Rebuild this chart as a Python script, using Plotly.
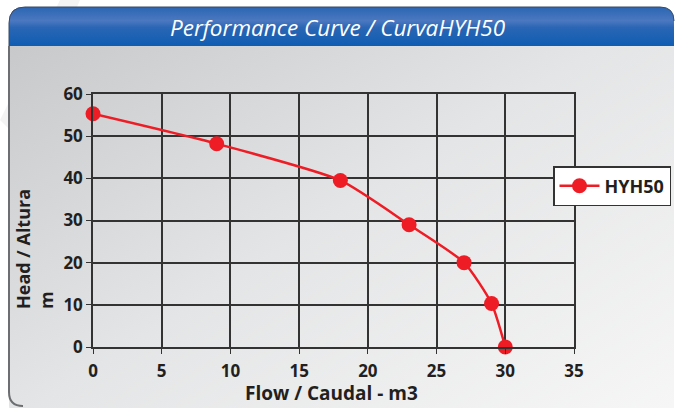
import base64
import plotly.graph_objects as go

flow = [0, 9, 18, 23, 27, 29, 30]
head = [55.3, 48.2, 39.5, 29, 20, 10.3, 0]
series_name = "HYH50"
title_text = "Performance Curve / CurvaHYH50"
x_title = "Flow / Caudal - m3"
y_title = "Head / Altura<br>m"
x_ticks = [0, 5, 10, 15, 20, 25, 30, 35]
y_ticks = [0, 10, 20, 30, 40, 50, 60]

W, H = 675, 408
L, R, T, B = 93, 101, 94, 61
pw, ph = W - L - R, H - T - B

svg = f"""<svg xmlns='http://www.w3.org/2000/svg' width='{W}' height='{H}' viewBox='0 0 {W} {H}'>
<defs>
<linearGradient id='hd' x1='0' y1='0' x2='0' y2='1'>
<stop offset='0' stop-color='#1a5cab'/><stop offset='0.45' stop-color='#4b78c0'/>
<stop offset='0.6' stop-color='#2a66b4'/><stop offset='1' stop-color='#0f5db3'/></linearGradient>
<linearGradient id='bd' x1='0' y1='0' x2='1' y2='1'>
<stop offset='0' stop-color='#c4c5c7'/><stop offset='0.5' stop-color='#e4e5e6'/><stop offset='1' stop-color='#f7f7f7'/></linearGradient>
<clipPath id='cp'><path d='M9,23 Q9,7 25,7 L660,7 Q674,7 674,21 L674,420 L25,420 Q9,420 9,404 Z'/></clipPath>
</defs>
<rect width='{W}' height='{H}' fill='#ffffff'/>
<path d='M0,120 L60,0 L80,0 L20,140 Z' fill='#f3f3f3'/>
<g clip-path='url(#cp)'>
<rect x='0' y='0' width='{W}' height='{H+20}' fill='url(#bd)'/>
<rect x='0' y='0' width='{W}' height='46' fill='url(#hd)'/>
</g>
<path d='M9,46 L9,23 Q9,7 25,7 L660,7 Q674,7 674,21' fill='none' stroke='#3a4a66' stroke-width='1'/>
<path d='M9,46 L9,392 Q9,406 23,406' fill='none' stroke='#6d6e71' stroke-width='2'/>
</svg>"""
src = "data:image/svg+xml;base64," + base64.b64encode(svg.encode()).decode()

red = "#ee1c25"
dark = "#231f20"
fig = go.Figure()
fig.add_trace(go.Scatter(
    x=flow, y=head, name=series_name, mode="lines+markers", cliponaxis=False,
    line=dict(color=red, width=2.5, shape="spline", smoothing=0.6),
    marker=dict(color=red, size=15),
))

fig.update_layout(
    width=W, height=H,
    margin=dict(l=L, r=R, t=T, b=B, autoexpand=False),
    paper_bgcolor="#ffffff", plot_bgcolor="rgba(0,0,0,0)",
    font=dict(family="Open Sans", color=dark),
    showlegend=True,
    legend=dict(xref="container", yref="container", x=553 / W, y=1 - 166 / H,
                xanchor="left", yanchor="top",
                bgcolor="#ffffff", bordercolor="#333333", borderwidth=1.5,
                font=dict(size=18, family="Open Sans", weight="bold", color=dark),
                itemwidth=40),
    images=[dict(source=src, xref="paper", yref="paper",
                 x=-L / pw, y=1 + T / ph, sizex=W / pw, sizey=H / ph,
                 xanchor="left", yanchor="top", sizing="stretch", layer="below")],
    annotations=[
        dict(text=title_text, xref="paper", yref="paper",
             x=(338 - L) / pw, y=1 + (T - 27) / ph, showarrow=False,
             xanchor="center", yanchor="middle",
             font=dict(size=22.5, color="#ffffff", family="Open Sans", style="italic", weight=500)),
        dict(text=x_title, xref="paper", yref="paper",
             x=(331 - L) / pw, y=-(393 - T - ph) / ph, showarrow=False,
             xanchor="center", yanchor="middle",
             font=dict(size=19, weight="bold", color=dark)),
        dict(text=y_title, xref="paper", yref="paper", textangle=-90, align="left",
             x=-(L - 34) / pw, y=1 - (249 - T) / ph, showarrow=False,
             xanchor="center", yanchor="middle",
             font=dict(size=18, weight="bold", color=dark)),
    ],
)
fig.update_xaxes(range=[0, 35], tickvals=x_ticks, showgrid=True, gridcolor="#333333", gridwidth=1.5,
                 showline=True, linecolor="#333333", linewidth=1.5, mirror=True, automargin=False,
                 ticks="outside", ticklen=5, tickcolor="#333333", zeroline=False,
                 ticklabelstandoff=3,
                 tickfont=dict(size=17, weight="bold", color=dark))
fig.update_yaxes(range=[0, 60], tickvals=y_ticks, showgrid=True, gridcolor="#333333", gridwidth=1.5,
                 showline=True, linecolor="#333333", linewidth=1.5, mirror=True, automargin=False,
                 ticks="outside", ticklen=5, tickcolor="#333333", zeroline=False,
                 tickfont=dict(size=17, weight="bold", color=dark))

fig.write_html("out.html", config={"displayModeBar": False},
               post_script="document.body.style.margin='0';document.body.style.overflow='hidden';")
